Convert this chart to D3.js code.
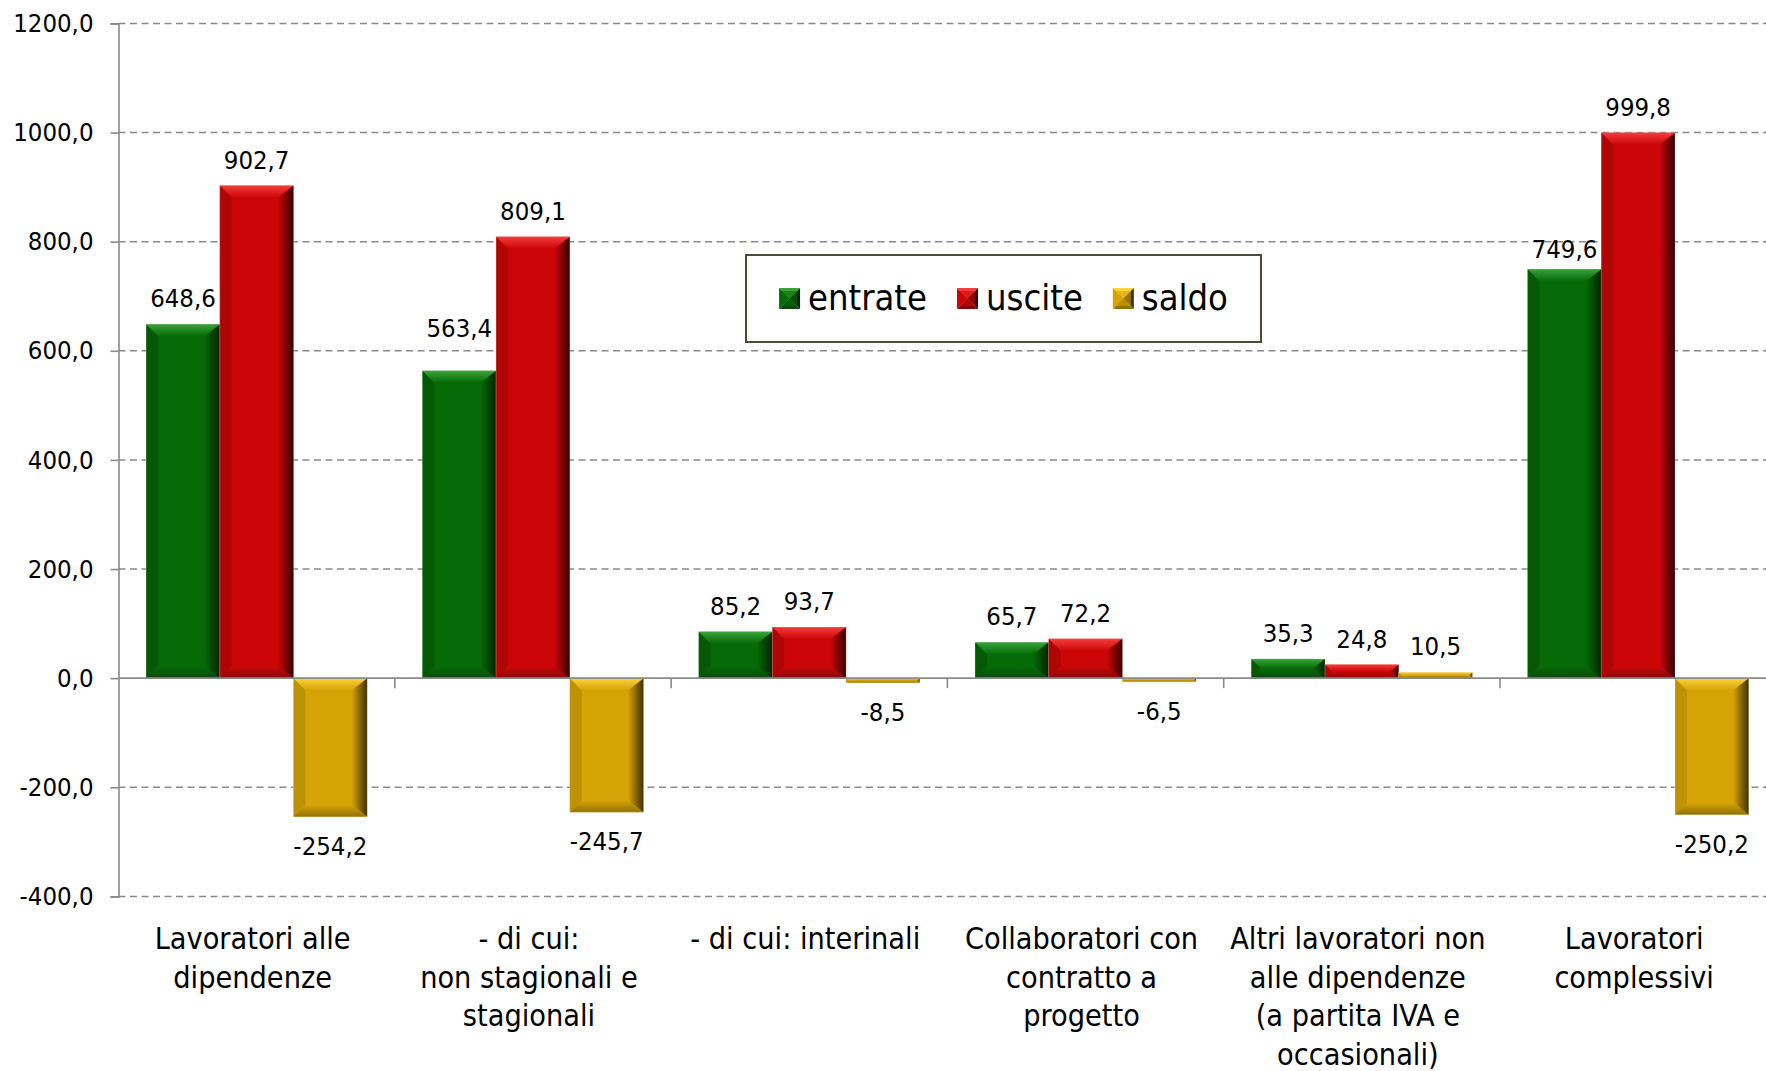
<!DOCTYPE html>
<html><head><meta charset="utf-8">
<script src="https://cdn.jsdelivr.net/npm/d3@7"></script>
<style>
html,body{margin:0;padding:0;background:#fff;overflow:hidden;}
svg text{font-family:"DejaVu Sans Condensed","DejaVu Sans",sans-serif;fill:#000;}
</style></head><body>
<svg id="chart" width="1766" height="1071"></svg>
<script>
// ---- data ----
const categories = [
  "Lavoratori alle\ndipendenze",
  "- di cui:\nnon stagionali e\nstagionali",
  "- di cui: interinali",
  "Collaboratori con\ncontratto a\nprogetto",
  "Altri lavoratori non\nalle dipendenze\n(a partita IVA e\noccasionali)",
  "Lavoratori\ncomplessivi"
];
const seriesNames = ["entrate", "uscite", "saldo"];
const entrate = [648.6, 563.4, 85.2, 65.7, 35.3, 749.6];
const uscite  = [902.7, 809.1, 93.7, 72.2, 24.8, 999.8];
const saldo   = [-254.2, -245.7, -8.5, -6.5, 10.5, -250.2];
const yTicks  = [-400, -200, 0, 200, 400, 600, 800, 1000, 1200];

// ---- style ----
const palettes = {
  entrate: {main: "#066b06", light: "#3aa23a", dark: "#012401", bottom: "#0a4a0a", left: "#055905"},
  uscite:  {main: "#cc0606", light: "#f43c3c", dark: "#360000", bottom: "#850909", left: "#b00505"},
  saldo:   {main: "#d6a406", light: "#fad43c", dark: "#403000", bottom: "#927206", left: "#bf9205"}
};
// manual label nudges (pixels) as in the original layout
const labelNudge = {"entrate-1": -17, "entrate-5": 6};
const seriesData = {entrate, uscite, saldo};

const svg = d3.select("#chart");
const W = 1766, H = 1071;
const plotLeft = 118.5, bandW = 276.3;
const x0 = d3.scaleBand().domain(categories).range([plotLeft, plotLeft + bandW * categories.length]).padding(0);
const x1 = d3.scaleBand().domain(seriesNames).range([x0.bandwidth() * 0.1, x0.bandwidth() * 0.9]).padding(0);
const y = d3.scaleLinear().domain([-400, 1200]).range([896.4, 23.4]);

const loc = d3.formatLocale({decimal: ",", thousands: ".", grouping: [3], currency: ["", ""], minus: "-"});
const fmt = loc.format(".1f");

// gradients
const defs = svg.append("defs");
seriesNames.forEach(s => {
  const p = palettes[s];
  const gR = defs.append("linearGradient").attr("id", "gr-" + s).attr("x1", 0).attr("x2", 1).attr("y1", 0).attr("y2", 0);
  gR.append("stop").attr("offset", "0%").attr("stop-color", p.main);
  gR.append("stop").attr("offset", "100%").attr("stop-color", p.dark);
  const gT = defs.append("linearGradient").attr("id", "gt-" + s).attr("x1", 0).attr("x2", 0).attr("y1", 0).attr("y2", 1);
  gT.append("stop").attr("offset", "0%").attr("stop-color", p.light);
  gT.append("stop").attr("offset", "100%").attr("stop-color", p.main);
  const gB = defs.append("linearGradient").attr("id", "gb-" + s).attr("x1", 0).attr("x2", 0).attr("y1", 0).attr("y2", 1);
  gB.append("stop").attr("offset", "0%").attr("stop-color", p.main);
  gB.append("stop").attr("offset", "100%").attr("stop-color", p.bottom);
});

// gridlines
const grid = svg.append("g");
grid.selectAll("line").data(yTicks.filter(v => v !== 0)).join("line")
  .attr("x1", plotLeft).attr("x2", W)
  .attr("y1", d => y(d)).attr("y2", d => y(d))
  .attr("stroke", "#8a8a8a").attr("stroke-width", 1.5).attr("stroke-dasharray", "7,4.5");

// y axis
const yAxis = svg.append("g").attr("transform", `translate(${plotLeft},0)`)
  .call(d3.axisLeft(y).tickValues(yTicks).tickFormat(fmt).tickSize(8).tickPadding(17));
yAxis.select(".domain").attr("stroke", "#8a8a8a").attr("stroke-width", 1.6);
yAxis.selectAll(".tick line").attr("stroke", "#8a8a8a").attr("stroke-width", 1.6);
yAxis.selectAll(".tick text").attr("font-size", 25.5).attr("font-family", null).attr("fill", "#000");

// bars
const groups = svg.append("g").selectAll("g").data(categories).join("g")
  .attr("transform", d => `translate(${x0(d)},0)`);

function bevelBar(g, s, bx, val) {
  const p = palettes[s];
  const w = x1.bandwidth();
  const yTop = y(Math.max(0, val)), yBot = y(Math.min(0, val));
  const h = yBot - yTop;
  const b = Math.min(12, h / 2, w / 2);
  const X0 = bx, X1 = bx + w, Y0 = yTop, Y1 = yBot;
  const bar = g.append("g");
  bar.append("rect").attr("x", X0).attr("y", Y0).attr("width", w).attr("height", h).attr("fill", p.main);
  const poly = (pts, fill) => bar.append("polygon").attr("points", pts.map(q => q.join(",")).join(" ")).attr("fill", fill);
  poly([[X0, Y0], [X0 + b, Y0 + b], [X0 + b, Y1 - b], [X0, Y1]], p.left);
  poly([[X1, Y0], [X1 - 1.3 * b, Y0 + b], [X1 - 1.3 * b, Y1 - b], [X1, Y1]], `url(#gr-${s})`);
  poly([[X0, Y1], [X1, Y1], [X1 - 1.3 * b, Y1 - b], [X0 + b, Y1 - b]], `url(#gb-${s})`);
  poly([[X0, Y0], [X1, Y0], [X1 - 1.3 * b, Y0 + b], [X0 + b, Y0 + b]], `url(#gt-${s})`);
  bar.append("rect").attr("x", X0).attr("y", Y0).attr("width", w).attr("height", h)
    .attr("fill", "none").attr("stroke", "#ffffff").attr("stroke-opacity", 0.25).attr("stroke-width", 0.8);
}

groups.each(function(cat, i) {
  const g = d3.select(this);
  seriesNames.forEach(s => {
    const v = seriesData[s][i];
    bevelBar(g, s, x1(s), v);
    g.append("text")
      .attr("x", x1(s) + x1.bandwidth() / 2)
      .attr("y", (v >= 0 ? y(v) - 17 : y(v) + 38) + (labelNudge[s + "-" + i] || 0))
      .attr("text-anchor", "middle").attr("font-size", 25.5)
      .text(fmt(v));
  });
});

// x axis line at zero
svg.append("line").attr("x1", plotLeft).attr("x2", W).attr("y1", y(0)).attr("y2", y(0))
  .attr("stroke", "#8a8a8a").attr("stroke-width", 1.6);
svg.append("g").selectAll("line").data(categories.slice(1)).join("line")
  .attr("x1", d => x0(d)).attr("x2", d => x0(d))
  .attr("y1", y(0)).attr("y2", y(0) + 10)
  .attr("stroke", "#8a8a8a").attr("stroke-width", 1.6);

// category labels
svg.append("g").selectAll("text").data(categories).join("text")
  .attr("text-anchor", "middle").attr("font-size", 30.3)
  .attr("transform", d => `translate(${x0(d) + x0.bandwidth() / 2 - 4},949)`)
  .each(function(d) {
    d3.select(this).selectAll("tspan").data(d.split("\n")).join("tspan")
      .attr("x", 0).attr("y", (t, k) => k * 38.6).text(t => t);
  });

// legend
const lg = svg.append("g");
const box = {x: 746, y: 255, w: 515, h: 87};
lg.append("rect").attr("x", box.x).attr("y", box.y).attr("width", box.w).attr("height", box.h)
  .attr("fill", "#fff").attr("stroke", "#4f4a36").attr("stroke-width", 2);
const items = lg.append("g");
let cx = 0;
const sw = 21;
seriesNames.forEach((s, k) => {
  const p = palettes[s];
  const it = items.append("g").attr("transform", `translate(${cx},0)`);
  const c = sw / 2;
  const tri = (pts, f) => it.append("polygon").attr("points", pts.map(q => q.join(",")).join(" ")).attr("fill", f);
  tri([[0, 0], [sw, 0], [c, c]], p.light);
  tri([[sw, 0], [sw, sw], [c, c]], p.dark);
  tri([[0, sw], [sw, sw], [c, c]], p.bottom);
  tri([[0, 0], [0, sw], [c, c]], p.main);
  it.append("rect").attr("x", 3).attr("y", 3).attr("width", sw - 6).attr("height", sw - 6).attr("fill", p.main).attr("opacity", 0.6);
  const t = it.append("text").attr("x", sw + 8).attr("y", sw / 2 + 11).attr("font-size", 36).text(s);
  cx += sw + 8 + t.node().getComputedTextLength() + 30;
});
const totalW = cx - 30;
items.attr("transform", `translate(${box.x + (box.w - totalW) / 2},${box.y + 33})`);
</script>
</body></html>
